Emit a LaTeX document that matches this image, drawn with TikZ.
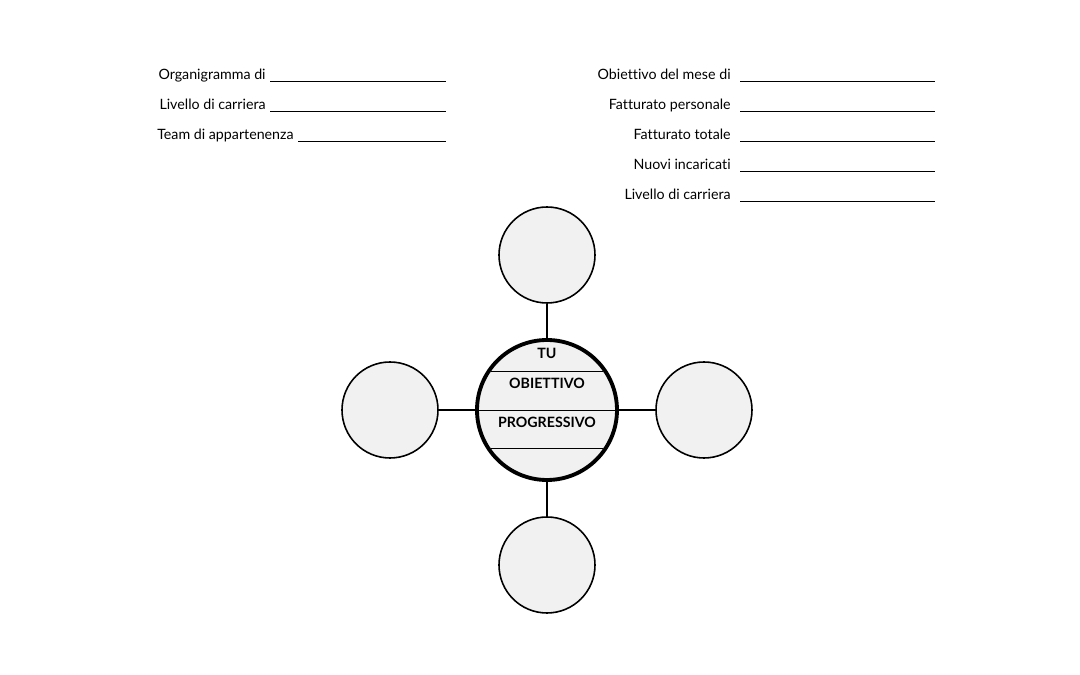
\documentclass[tikz,border=0pt]{standalone}
\usepackage{fontspec}
\setmainfont{Lato}[Ligatures={NoCommon}]
\definecolor{disc}{HTML}{F1F1F1}

\begin{document}
\begin{tikzpicture}[x=0.02cm,y=-0.02cm,
	member/.style={shape=circle,draw=black,fill=disc,line width=0.9pt,minimum size=96*0.02cm,inner sep=0pt},
	field/.style={font=\fontsize{8.1}{10}\selectfont,inner sep=0pt,anchor=base east},
	blank/.style={line width=0.5pt}]
	\useasboundingbox (0,0) rectangle (1080,675);

	% left header
	\node[field] (org) at (266, 80) {Organigramma di};
	\node[field] (liv) at (266,110) {Livello di carriera};
	\node[field] (team) at (294,140) {Team di appartenenza};
	\coordinate (org2) at (446, 81);
	\coordinate (liv2) at (446,111);
	\coordinate (team2) at (446,141);
	\draw[blank] (org.base east) ++(4,1) -- (org2);
	\draw[blank] (liv.base east) ++(4,1) -- (liv2);
	\draw[blank] (team.base east) ++(4,1) -- (team2);

	% right header
	\node[field] (obj) at (731, 80) {Obiettivo del mese di};
	\node[field] (fp) at (731,110) {Fatturato personale};
	\node[field] (ft) at (731,140) {Fatturato totale};
	\node[field] (ni) at (731,170) {Nuovi incaricati};
	\node[field] (lc) at (731,200) {Livello di carriera};
	\foreach \n/\y in {obj/81,fp/111,ft/141,ni/171,lc/201}
		\draw[blank] (740,\y) -- (935,\y);

	% circles
	\node[member] (top) at (547,255) {};
	\node[member] (left) at (390,410) {};
	\node[member] (right) at (704,410) {};
	\node[member] (bottom) at (547,565) {};
	\node[member,minimum size=140*0.02cm,line width=2.2pt] (tu) at (547,410) {};

	\path[-,line width=0.8pt] (top) edge (tu) (left) edge (tu) (right) edge (tu) (bottom) edge (tu);

	\begin{scope}
		\clip (547,410) circle (68);
		\foreach \y in {371,410,448}
			\draw[line width=0.5pt] (470,\y) -- (625,\y);
	\end{scope}
	\node[font=\fontsize{8.1}{10}\selectfont\bfseries] (tutxt) at (547,353) {TU};
	\node[font=\fontsize{8.1}{10}\selectfont\bfseries] (obtxt) at (547,383) {OBIETTIVO};
	\node[font=\fontsize{8.1}{10}\selectfont\bfseries] (prtxt) at (547,422) {PROGRESSIVO};
\end{tikzpicture}
\end{document}
